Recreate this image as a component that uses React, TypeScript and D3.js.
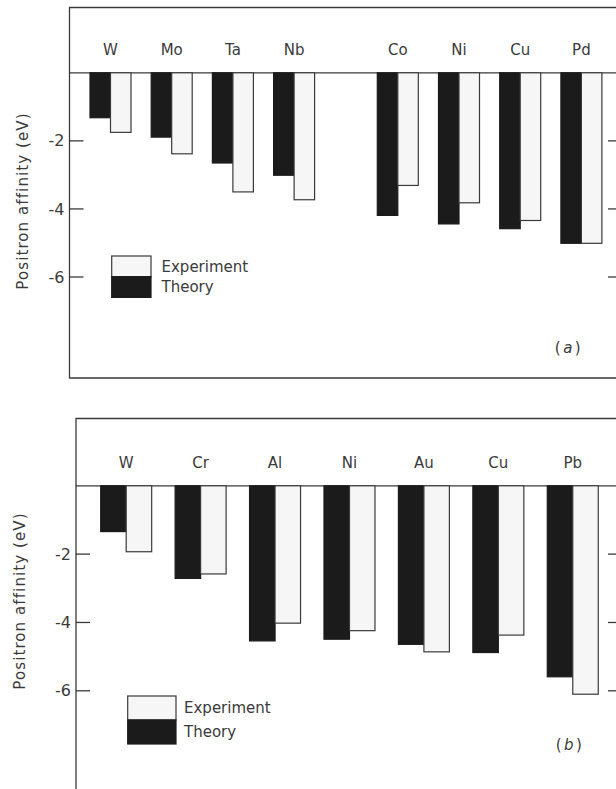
import React from "react";
import * as d3 from "d3";

// panel (a)
const elementsA = ["W", "Mo", "Ta", "Nb", "Co", "Ni", "Cu", "Pd"];
const theoryA = [-1.32, -1.89, -2.65, -3.01, -4.19, -4.44, -4.58, -5.01];
const experimentA = [-1.75, -2.38, -3.5, -3.73, -3.31, -3.82, -4.34, -5.01];

// panel (b)
const elementsB = ["W", "Cr", "Al", "Ni", "Au", "Cu", "Pb"];
const theoryB = [-1.34, -2.71, -4.54, -4.49, -4.64, -4.88, -5.59];
const experimentB = [-1.93, -2.58, -4.02, -4.24, -4.86, -4.37, -6.1];

const yTicks = [-2, -4, -6];
const series = ["Theory", "Experiment"];
const yLabel = "Positron affinity (eV)";

const FONT = "'DejaVu Sans', sans-serif";
const INK = "#3a3a3a";
const DARK = "#1b1b1b";
const LIGHT = "#f6f6f6";

type PanelProps = {
  elements: string[];
  theory: number[];
  experiment: number[];
  tag: string;
  frame: { left: number; top: number; bottom: number; right: number };
  yRange: [number, number];
  xStart: number;
  step: number;
  padding: number;
  gapAfter?: number;
  gap?: number;
  labelY: number;
  legend: { x: number; y: number; w: number; h: number; textX: number };
  tagPos: [number, number];
  yLabelPos: [number, number];
};

function Panel(p: PanelProps) {
  const n = p.elements.length;
  const y = d3.scaleLinear().domain([0, -6]).range(p.yRange);
  const band = d3
    .scaleBand<string>()
    .domain(p.elements)
    .range([p.xStart, p.xStart + n * p.step - p.padding * p.step])
    .paddingInner(p.padding)
    .paddingOuter(0);
  const inner = d3
    .scaleBand<string>()
    .domain(series)
    .range([0, band.bandwidth()]);
  const xOf = (d: string, i: number) =>
    (band(d) as number) + (p.gapAfter !== undefined && i >= p.gapAfter ? p.gap || 0 : 0);

  const values: Record<string, number[]> = { Theory: p.theory, Experiment: p.experiment };
  const { left, top, bottom, right } = p.frame;
  const y0 = y(0);
  const tickLen = 14;

  return (
    <g>
      <path
        d={`M${right},${top}H${left}V${bottom}H${right}`}
        fill="none"
        stroke={INK}
        strokeWidth={1.3}
      />
      {/* zero line */}
      <line x1={left} x2={right} y1={y0} y2={y0} stroke={INK} strokeWidth={1.3} />

      {p.elements.map((d, i) => (
        <text
          key={"l" + d}
          x={xOf(d, i) + band.bandwidth() / 2}
          y={p.labelY}
          textAnchor="middle"
          fontSize={15}
          fill={INK}
        >
          {d}
        </text>
      ))}

      {series.map((s) =>
        p.elements.map((d, i) => {
          const v = values[s][i];
          return (
            <rect
              key={s + d}
              x={xOf(d, i) + (inner(s) as number)}
              y={y0}
              width={inner.bandwidth()}
              height={y(v) - y0}
              fill={s === "Theory" ? DARK : LIGHT}
              stroke={s === "Theory" ? DARK : INK}
              strokeWidth={1.2}
            />
          );
        })
      )}

      {yTicks.map((t) => (
        <g key={"t" + t}>
          <line x1={left} x2={left + tickLen} y1={y(t)} y2={y(t)} stroke={INK} strokeWidth={1.3} />
          <line x1={right} x2={right - tickLen} y1={y(t)} y2={y(t)} stroke={INK} strokeWidth={1.3} />
          <text
            x={left - 5}
            y={y(t)}
            dy="0.35em"
            textAnchor="end"
            fontSize={16}
            fill={INK}
          >
            {t}
          </text>
        </g>
      ))}

      <text
        transform={`translate(${p.yLabelPos[0]},${p.yLabelPos[1]}) rotate(-90)`}
        dy="0.35em"
        textAnchor="middle"
        fontSize={15}
        letterSpacing={1.1}
        fill={INK}
      >
        {yLabel}
      </text>

      {/* legend */}
      <rect
        x={p.legend.x}
        y={p.legend.y}
        width={p.legend.w}
        height={p.legend.h}
        fill={LIGHT}
        stroke={INK}
        strokeWidth={1.2}
      />
      <rect
        x={p.legend.x}
        y={p.legend.y + p.legend.h}
        width={p.legend.w}
        height={p.legend.h}
        fill={DARK}
        stroke={DARK}
        strokeWidth={1.2}
      />
      <text x={p.legend.textX} y={p.legend.y + p.legend.h / 2} dy="0.35em" fontSize={15} fill={INK}>
        Experiment
      </text>
      <text
        x={p.legend.textX}
        y={p.legend.y + p.legend.h * 1.5}
        dy="0.35em"
        fontSize={15}
        fill={INK}
      >
        Theory
      </text>

      <text x={p.tagPos[0]} y={p.tagPos[1]} textAnchor="middle" fontSize={15} letterSpacing={2.5} fill={INK}>
        (<tspan fontStyle="italic">{p.tag}</tspan>)
      </text>
    </g>
  );
}

export default function App() {
  return (
    <svg
      width={616}
      height={789}
      style={{ position: "absolute", left: 0, top: 0, background: "#fff" }}
      fontFamily={FONT}
    >
      <Panel
        elements={elementsA}
        theory={theoryA}
        experiment={experimentA}
        tag="a"
        frame={{ left: 69.5, top: 7.5, bottom: 378, right: 622 }}
        yRange={[72.8, 277]}
        xStart={90}
        step={61.2}
        padding={0.33}
        gapAfter={4}
        gap={42.5}
        labelY={55}
        legend={{ x: 111.7, y: 256, w: 39.3, h: 20.7, textX: 161.5 }}
        tagPos={[569, 353]}
        yLabelPos={[23, 201]}
      />
      <Panel
        elements={elementsB}
        theory={theoryB}
        experiment={experimentB}
        tag="b"
        frame={{ left: 76, top: 418.5, bottom: 820, right: 622 }}
        yRange={[485.8, 690.8]}
        xStart={100.7}
        step={74.43}
        padding={0.315}
        labelY={468}
        legend={{ x: 127.7, y: 696, w: 48.3, h: 24, textX: 184 }}
        tagPos={[570, 750]}
        yLabelPos={[20, 601]}
      />
    </svg>
  );
}
